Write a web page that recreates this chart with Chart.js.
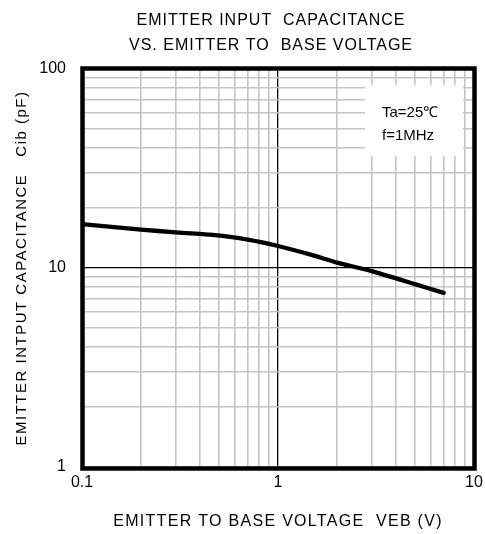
<!DOCTYPE html>
<html><head><meta charset="utf-8">
<script src="https://cdn.jsdelivr.net/npm/chart.js@4.4.0/dist/chart.umd.min.js"></script>
<style>html,body{margin:0;padding:0;background:#fff}#wrap{width:485px;height:534px}</style>
</head><body><div id="wrap"><canvas id="c" width="485" height="534"></canvas></div>
<script>
// ---- data ----
const veb = [0.1, 0.2, 0.3, 0.45, 0.7, 1, 1.5, 2, 3, 5, 7];
const cib = [16.6, 15.6, 15.1, 14.7, 13.9, 12.9, 11.6, 10.65, 9.65, 8.3, 7.5];
const xTickLabels = [0.1, 1, 10];
const yTickLabels = [1, 10, 100];
const titleLines = ['EMITTER INPUT  CAPACITANCE', 'VS. EMITTER TO  BASE VOLTAGE'];
const xTitle = 'EMITTER TO BASE VOLTAGE  VEB (V)';
const yTitle = 'EMITTER INTPUT CAPACITANCE   Cib (pF)';
const noteLines = ['Ta=25\u2103', 'f=1MHz'];

const FONT = "'Liberation Sans', Arial, sans-serif";

function logGrid(min, max) {
  const out = [];
  for (let d = min; d < max * 0.999; d *= 10) {
    for (let k = 1; k <= 9; k++) out.push(Number((k * d).toPrecision(6)));
  }
  out.push(max);
  return out;
}
const isIn = (arr, v) => arr.some(a => Math.abs(a - v) / a < 1e-6);

function withSpacing(obj, method, spacing, ctx) {
  if (!obj || obj['_sp_' + method]) return;
  const orig = obj[method].bind(obj);
  obj[method] = function (...args) {
    ctx.save();
    ctx.letterSpacing = spacing;
    orig(...args);
    ctx.restore();
  };
  obj['_sp_' + method] = true;
}

const framePlugin = {
  id: 'frame',
  afterLayout(chart) {
    const t = chart.titleBlock;
    if (t) { t.left = chart.chartArea.left - 14; t.right = chart.chartArea.right; }
    withSpacing(t, 'draw', '1px', chart.ctx);
    withSpacing(chart.scales.x, 'drawTitle', '1.3px', chart.ctx);
    withSpacing(chart.scales.y, 'drawTitle', '1.5px', chart.ctx);
  },
  beforeDatasetsDraw(chart) {
    const {ctx, chartArea: a} = chart;
    ctx.save();
    const bw = 98, bh = 71;
    const bx = a.right - 11 - bw, by = a.top + 16;
    ctx.fillStyle = '#fff';
    ctx.fillRect(bx, by, bw, bh);
    ctx.fillStyle = '#000';
    ctx.font = '15px ' + FONT;
    ctx.textBaseline = 'middle';
    ctx.textAlign = 'left';
    ctx.fillText(noteLines[0], bx + 17, by + 28);
    ctx.fillText(noteLines[1], bx + 17, by + 51);
    ctx.restore();
  },
  afterDatasetsDraw(chart) {
    const {ctx, chartArea: a} = chart;
    ctx.save();
    ctx.strokeStyle = '#000';
    ctx.lineWidth = 4.5;
    ctx.strokeRect(a.left + 0.5, a.top - 0.5, a.right - a.left, a.bottom - a.top + 2);
    ctx.restore();
  }
};

new Chart(document.getElementById('c'), {
  type: 'scatter',
  data: {
    datasets: [{
      data: veb.map((x, i) => ({x, y: cib[i]})),
      showLine: true,
      borderColor: '#000',
      borderWidth: 4.3,
      borderJoinStyle: 'round',
      borderCapStyle: 'round',
      pointRadius: 0,
      tension: 0.15,
      fill: false
    }]
  },
  options: {
    responsive: false,
    animation: false,
    devicePixelRatio: 1,
    layout: {padding: {left: 0, right: 11, top: 0, bottom: 0}},
    plugins: {
      legend: {display: false},
      tooltip: {enabled: false},
      title: {
        display: true,
        text: titleLines,
        color: '#000',
        font: {family: FONT, size: 16, weight: 'normal', lineHeight: 1.5625},
        padding: {top: 8, bottom: 11}
      }
    },
    scales: {
      x: {
        type: 'logarithmic',
        min: xTickLabels[0], max: xTickLabels[xTickLabels.length - 1],
        afterBuildTicks: s => { s.ticks = logGrid(s.min, s.max).map(v => ({value: v})); },
        afterFit: s => { s.height = 67; s.paddingLeft = 0; s.paddingRight = 0; },
        ticks: {
          autoSkip: false, maxRotation: 0, padding: 6, color: '#000',
          font: {family: FONT, size: 16},
          callback: v => isIn(xTickLabels, v) ? String(v) : ''
        },
        grid: {
          drawTicks: false,
          color: c => (c.tick && Math.abs(c.tick.value - 1) < 1e-9) ? '#000' : '#c4c4c4',
          lineWidth: c => (c.tick && Math.abs(c.tick.value - 1) < 1e-9) ? 1.3 : 1.6
        },
        border: {display: false},
        title: {
          display: true, text: xTitle, color: '#000',
          font: {family: FONT, size: 16}, padding: {top: 0, bottom: 2.4}
        }
      },
      y: {
        type: 'logarithmic',
        min: yTickLabels[0], max: yTickLabels[yTickLabels.length - 1],
        afterBuildTicks: s => { s.ticks = logGrid(s.min, s.max).map(v => ({value: v})); },
        afterFit: s => { s.width = 82; s.paddingTop = 0; s.paddingBottom = 0; },
        ticks: {
          autoSkip: false, padding: 16, color: '#000',
          font: {family: FONT, size: 16},
          callback: v => isIn(yTickLabels, v) ? String(v) : ''
        },
        grid: {
          drawTicks: false,
          color: c => (c.tick && Math.abs(c.tick.value - 10) < 1e-9) ? '#000' : '#c4c4c4',
          lineWidth: c => (c.tick && Math.abs(c.tick.value - 10) < 1e-9) ? 1.3 : 1.6
        },
        border: {display: false},
        title: {
          display: true, text: yTitle, color: '#000',
          font: {family: FONT, size: 15}, padding: {top: 13, bottom: 0}
        }
      }
    }
  },
  plugins: [framePlugin]
});
</script></body></html>
